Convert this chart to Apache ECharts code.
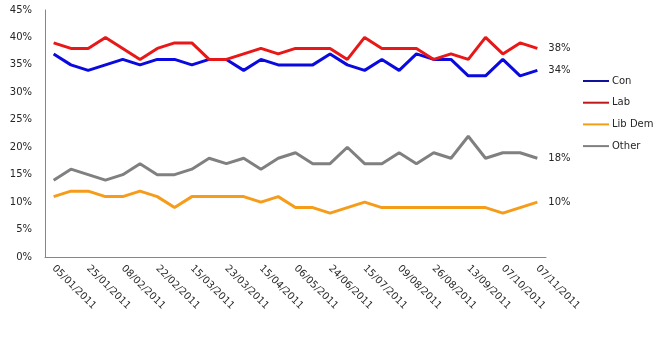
<!DOCTYPE html>
<html>
<head>
<meta charset="utf-8">
<script src="https://cdn.jsdelivr.net/npm/echarts@6/dist/echarts.min.js"></script>
<style>
  html, body { margin: 0; padding: 0; background: #fff; }
  #chart { width: 661px; height: 343px; }
</style>
</head>
<body>
<div id="chart"></div>
<script>
// Poll dates (every other one is labelled on the axis)
const dates = [
  '05/01/2011', '12/01/2011', '25/01/2011', '01/02/2011', '08/02/2011',
  '15/02/2011', '22/02/2011', '01/03/2011', '15/03/2011', '18/03/2011',
  '23/03/2011', '06/04/2011', '15/04/2011', '27/04/2011', '06/05/2011',
  '10/06/2011', '24/06/2011', '06/07/2011', '15/07/2011', '27/07/2011',
  '09/08/2011', '16/08/2011', '26/08/2011', '01/09/2011', '13/09/2011',
  '20/09/2011', '07/10/2011', '18/10/2011', '07/11/2011'
];

// Voting intention, percent
const con = [37, 35, 34, 35, 36, 35, 36, 36, 35, 36, 36, 34, 36, 35, 35, 35, 37, 35, 34, 36, 34, 37, 36, 36, 33, 33, 36, 33, 34];
const lab = [39, 38, 38, 40, 38, 36, 38, 39, 39, 36, 36, 37, 38, 37, 38, 38, 38, 36, 40, 38, 38, 38, 36, 37, 36, 40, 37, 39, 38];
const libDem = [11, 12, 12, 11, 11, 12, 11, 9, 11, 11, 11, 11, 10, 11, 9, 9, 8, 9, 10, 9, 9, 9, 9, 9, 9, 9, 8, 9, 10];
const other = [14, 16, 15, 14, 15, 17, 15, 15, 16, 18, 17, 18, 16, 18, 19, 17, 17, 20, 17, 17, 19, 17, 19, 18, 22, 18, 19, 19, 18];

const seriesNames = ['Con', 'Lab', 'Lib Dem', 'Other'];
const seriesData = [con, lab, libDem, other];
const lineColors = ['#0a0ae0', '#e81818', '#f59d1a', '#808080'];
const legendColors = ['#10109a', '#c01818', '#f0a010', '#808080'];

const textColor = '#262626';
const font = 'DejaVu Sans';

const chart = echarts.init(document.getElementById('chart'), null, { renderer: 'canvas' });

chart.setOption({
  animation: false,
  backgroundColor: '#ffffff',
  grid: { left: 45, right: 115, top: 10, bottom: 86, containLabel: false },
  legend: {
    orient: 'vertical',
    left: 578,
    top: 71,
    itemWidth: 26,
    itemHeight: 2,
    itemGap: 11.7,
    icon: 'rect',
    textStyle: { color: textColor, fontFamily: font, fontSize: 10, padding: [0, 0, 0, -2] },
    data: seriesNames.map((n, i) => ({ name: n, itemStyle: { color: legendColors[i] } }))
  },
  xAxis: {
    type: 'category',
    boundaryGap: true,
    data: dates,
    axisLine: { lineStyle: { color: '#868686', width: 1 } },
    axisTick: { show: false },
    axisLabel: {
      interval: 1,
      rotate: -45,
      margin: 10,
      color: textColor,
      fontFamily: font,
      fontSize: 10
    },
    splitLine: { show: false }
  },
  yAxis: {
    type: 'value',
    min: 0,
    max: 45,
    interval: 5,
    axisLine: { show: true, lineStyle: { color: '#868686', width: 1 } },
    axisTick: { show: false },
    axisLabel: {
      formatter: '{value}%',
      margin: 13,
      color: textColor,
      fontFamily: font,
      fontSize: 10
    },
    splitLine: { show: false }
  },
  series: seriesNames.map((name, i) => ({
    name: name,
    type: 'line',
    data: seriesData[i],
    symbol: 'none',
    smooth: false,
    lineStyle: { color: lineColors[i], width: 3 },
    itemStyle: { color: lineColors[i] },
    endLabel: {
      show: true,
      formatter: (p) => p.value + '%',
      distance: 11,
      color: textColor,
      fontFamily: font,
      fontSize: 10
    }
  }))
});
</script>
</body>
</html>
